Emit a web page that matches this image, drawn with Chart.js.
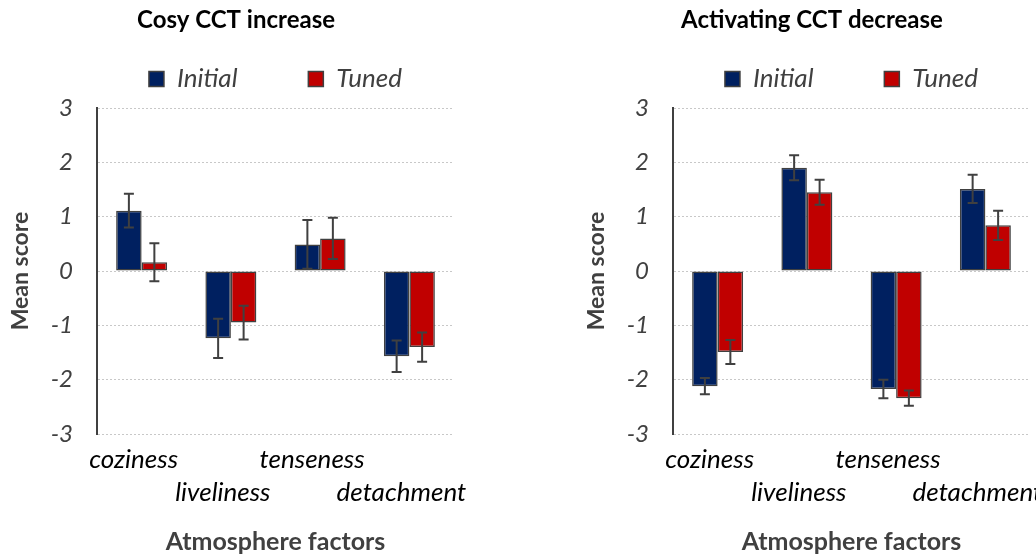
<!DOCTYPE html>
<html>
<head>
<meta charset="utf-8">
<script src="https://cdn.jsdelivr.net/npm/chart.js@4.4.1/dist/chart.umd.min.js"></script>
<style>
  html, body { margin: 0; padding: 0; background: #fff; overflow: hidden; width: 1036px; height: 558px; }
  .box { position: absolute; top: 0; width: 476px; height: 558px; }
</style>
</head>
<body>
<div class="box" style="left:0px"><canvas id="cosy" width="476" height="558"></canvas></div>
<div class="box" style="left:576px"><canvas id="activating" width="476" height="558"></canvas></div>
<script>
const categories = [['coziness', ''], ['', 'liveliness'], ['tenseness', ''], ['', 'detachment']];
const seriesNames = ['Initial', 'Tuned'];
const yTicks = [-3, -2, -1, 0, 1, 2, 3];

// Cosy CCT increase
const cosyInitial = [1.11, -1.24, 0.49, -1.57];
const cosyInitialErr = [0.31, 0.36, 0.45, 0.29];
const cosyTuned = [0.16, -0.95, 0.60, -1.40];
const cosyTunedErr = [0.35, 0.31, 0.38, 0.27];

// Activating CCT decrease
const actInitial = [-2.12, 1.90, -2.17, 1.51];
const actInitialErr = [0.15, 0.23, 0.17, 0.26];
const actTuned = [-1.49, 1.45, -2.34, 0.84];
const actTunedErr = [0.22, 0.23, 0.14, 0.27];

const FONT = 'Lato';
const navy = '#002060';
const red = '#C00000';
const dark = '#404040';

// draws the error bars from the y scale
const errorBars = {
    id: 'errorBars',
    afterDatasetsDraw(chart) {
        const ctx = chart.ctx;
        const y = chart.scales.y;
        ctx.save();
        ctx.strokeStyle = dark;
        ctx.lineWidth = 2;
        chart.data.datasets.forEach((ds, i) => {
            const meta = chart.getDatasetMeta(i);
            meta.data.forEach((bar, j) => {
                const v = ds.data[j];
                const e = ds.errors[j];
                const top = y.getPixelForValue(v + e);
                const bot = y.getPixelForValue(v - e);
                ctx.beginPath();
                ctx.moveTo(bar.x, top); ctx.lineTo(bar.x, bot);
                ctx.moveTo(bar.x - 5, top); ctx.lineTo(bar.x + 5, top);
                ctx.moveTo(bar.x - 5, bot); ctx.lineTo(bar.x + 5, bot);
                ctx.stroke();
            });
        });
        ctx.restore();
    }
};

// a bit more room under the legend
const legendSpace = {
    id: 'legendSpace',
    beforeLayout(chart) {
        const lg = chart.legend;
        if (lg && !lg._patched) {
            const fit = lg.fit;
            lg.fit = function () { fit.call(this); this.height += 6; };
            lg._patched = true;
        }
    }
};

function make_chart(id, title, initial, initialErr, tuned, tunedErr) {
    return new Chart(document.getElementById(id), {
        type: 'bar',
        data: {
            labels: categories,
            datasets: [{
                label: seriesNames[0],
                data: initial,
                errors: initialErr,
                backgroundColor: navy,
                borderColor: dark,
                borderWidth: 1.5,
                borderSkipped: false
            }, {
                label: seriesNames[1],
                data: tuned,
                errors: tunedErr,
                backgroundColor: red,
                borderColor: dark,
                borderWidth: 1.5,
                borderSkipped: false
            }]
        },
        options: {
            responsive: false,
            animation: false,
            devicePixelRatio: 1,
            categoryPercentage: 0.571,
            barPercentage: 1,
            layout: { padding: { left: 18, right: 22, top: 0, bottom: 0 } },
            plugins: {
                title: {
                    display: true,
                    text: title,
                    color: '#000',
                    font: { family: FONT, size: 24, weight: 'bold', lineHeight: 1.2 },
                    padding: { top: 5.6, bottom: 21.6 }
                },
                legend: {
                    display: true,
                    fullSize: false,
                    labels: {
                        color: dark,
                        boxWidth: 15,
                        boxHeight: 15,
                        padding: 10,
                        font: { family: FONT, size: 26, style: 'italic' },
                        generateLabels: chart => {
                            const items = Chart.defaults.plugins.legend.labels.generateLabels(chart);
                            items[0].text = items[0].text + ' '.repeat(10);
                            return items;
                        }
                    }
                },
                tooltip: { enabled: false }
            },
            scales: {
                x: {
                    grid: { display: false, drawTicks: false },
                    border: { display: false },
                    ticks: {
                        color: '#000',
                        padding: 9.5,
                        labelOffset: -8,
                        maxRotation: 0,
                        autoSkip: false,
                        font: { family: FONT, size: 26, style: 'italic', lineHeight: 1.27 }
                    },
                    title: {
                        display: true,
                        text: 'Atmosphere factors',
                        color: dark,
                        font: { family: FONT, size: 25, weight: 'bold', lineHeight: 1.2 },
                        padding: { top: 0, bottom: 1 }
                    },
                    afterFit: s => { s.height = 124; s.paddingLeft = 0; s.paddingRight = 0; }
                },
                y: {
                    min: -3,
                    max: 3,
                    afterBuildTicks: s => { s.ticks = yTicks.map(v => ({ value: v })); },
                    grid: { color: '#c8c8c8', lineWidth: 1, drawTicks: false },
                    border: { display: true, color: dark, width: 2, dash: [2, 2] },
                    ticks: {
                        color: dark,
                        padding: 24,
                        font: { family: FONT, size: 24, style: 'italic' }
                    },
                    title: {
                        display: true,
                        text: 'Mean score',
                        color: dark,
                        font: { family: FONT, size: 23, weight: 'bold', lineHeight: 1.2 },
                        padding: { top: -11, bottom: 0 }
                    },
                    afterFit: s => { s.width = 79; }
                }
            }
        },
        plugins: [errorBars, legendSpace]
    });
}

make_chart('cosy', 'Cosy CCT increase', cosyInitial, cosyInitialErr, cosyTuned, cosyTunedErr);
make_chart('activating', 'Activating CCT decrease', actInitial, actInitialErr, actTuned, actTunedErr);
</script>
</body>
</html>
